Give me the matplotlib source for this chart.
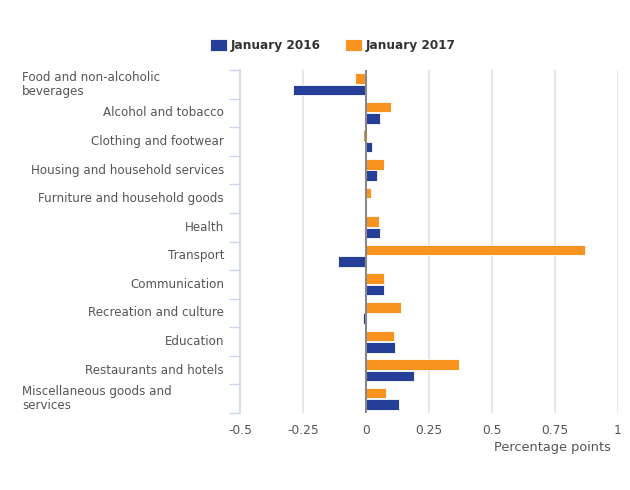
import matplotlib.pyplot as plt
import matplotlib.transforms as mtransforms
import numpy as np

categorias = [
    "Food and non-alcoholic\nbeverages",
    "Alcohol and tobacco",
    "Clothing and footwear",
    "Housing and household services",
    "Furniture and household goods",
    "Health",
    "Transport",
    "Communication",
    "Recreation and culture",
    "Education",
    "Restaurants and hotels",
    "Miscellaneous goods and\nservices",
]
ene_2016 = [-0.29, 0.055, 0.025, 0.045, 0.0, 0.055, -0.11, 0.07, -0.01, 0.115, 0.19, 0.13]
ene_2017 = [-0.045, 0.1, -0.01, 0.07, 0.02, 0.05, 0.87, 0.07, 0.14, 0.11, 0.37, 0.08]
xticks = [-0.5, -0.25, 0, 0.25, 0.5, 0.75, 1]
xlabels = ["-0.5", "-0.25", "0", "0.25", "0.5", "0.75", "1"]

azul = "#253e98"
naranja = "#f7931e"
gris_txt = "#555555"

fig = plt.figure(figsize=(6.3, 4.9), dpi=100)
ax = fig.add_axes([240 / 630, 1 - 413 / 490, 378 / 630, 343 / 490])

y = np.arange(len(categorias))
alto = 0.37
ax.barh(y - 0.2, ene_2017, height=alto, color=naranja, edgecolor="white", linewidth=0.6,
        label="January 2017", zorder=3)
ax.barh(y + 0.2, ene_2016, height=alto, color=azul, edgecolor="white", linewidth=0.6,
        label="January 2016", zorder=3)

ax.set_xlim(-0.5, 1)
ax.set_ylim(len(categorias) - 0.5, -0.5)

# rejilla vertical y linea del cero
for t in xticks[1:]:
    ax.axvline(t, color="#e3e3e3", linewidth=1.2, zorder=1)
ax.axvline(0, color="#888888", linewidth=1.5, zorder=4)

ax.set_xticks(xticks)
ax.set_xticklabels(xlabels, color=gris_txt, fontsize=8.8)
ax.tick_params(axis="x", length=0, pad=8)

# eje y: solo marcas en los limites de categoria
ax.set_yticks(np.arange(len(categorias) + 1) - 0.5, minor=False)
ax.set_yticklabels([])
ax.tick_params(axis="y", length=8, color="#ccd6eb", width=1)

for s in ["top", "right", "bottom"]:
    ax.spines[s].set_visible(False)
ax.spines["left"].set_color("#ccd6eb")
ax.spines["left"].set_linewidth(1.2)

trans = mtransforms.blended_transform_factory(ax.transAxes, ax.transData)
for i, c in enumerate(categorias):
    if "\n" in c:
        ax.text(-0.577, i, c, transform=trans, ha="left", va="center",
                fontsize=8.6, color=gris_txt, linespacing=1.1)
    else:
        ax.text(-0.042, i, c, transform=trans, ha="right", va="center",
                fontsize=8.6, color=gris_txt)

handles, labels = ax.get_legend_handles_labels()
leg = fig.legend(handles[::-1], labels[::-1], loc="center", bbox_to_anchor=(0.528, 0.907),
                 ncol=2, frameon=False, handlelength=1.4, handleheight=1.1,
                 columnspacing=2.0, handletextpad=0.3,
                 prop={"weight": "bold", "size": 8.7})
for t in leg.get_texts():
    t.set_color("#333333")

fig.text(611 / 630, 1 - 447 / 490, "Percentage points", ha="right", va="center",
         fontsize=9.3, color=gris_txt)

fig.savefig("out.png", dpi=100)
